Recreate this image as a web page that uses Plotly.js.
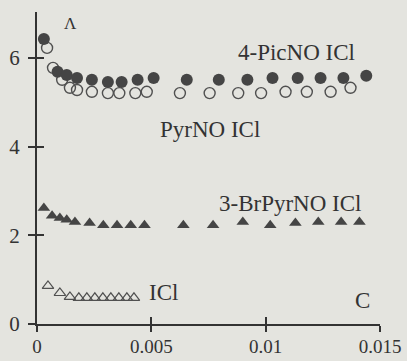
<!DOCTYPE html>
<html>
<head>
<meta charset="utf-8">
<script src="https://cdn.plot.ly/plotly-3.0.1.min.js"></script>
<style>html,body{margin:0;padding:0;background:#e4e4df;}#chart{width:407px;height:361px;}</style>
</head>
<body>
<div id="chart"></div>
<script>
// 4-PicNO ICl (filled circles)
const picX = [0.0003, 0.0009, 0.0013, 0.00175, 0.0024, 0.0031, 0.0037, 0.0044, 0.0051, 0.00655, 0.00795, 0.0092, 0.0103, 0.0114, 0.0124, 0.0134, 0.0144];
const picY = [6.43, 5.69, 5.62, 5.55, 5.51, 5.46, 5.46, 5.51, 5.55, 5.51, 5.51, 5.51, 5.55, 5.55, 5.55, 5.55, 5.60];
// PyrNO ICl (open circles)
const pyrX = [0.00044, 0.0007, 0.0011, 0.00144, 0.00175, 0.0024, 0.0031, 0.0036, 0.0043, 0.0048, 0.00625, 0.00755, 0.0088, 0.0098, 0.01087, 0.0118, 0.01284, 0.01371];
const pyrY = [6.23, 5.78, 5.51, 5.33, 5.28, 5.24, 5.21, 5.21, 5.21, 5.24, 5.21, 5.21, 5.21, 5.21, 5.24, 5.24, 5.24, 5.33];
// 3-BrPyrNO ICl (filled triangles)
const brX = [0.0003, 0.00066, 0.001, 0.0013, 0.00166, 0.0023, 0.0029, 0.0035, 0.0041, 0.0047, 0.0064, 0.0077, 0.009, 0.0102, 0.0113, 0.0123, 0.0133, 0.0141];
const brY = [2.62, 2.44, 2.39, 2.35, 2.30, 2.28, 2.23, 2.23, 2.23, 2.23, 2.23, 2.23, 2.30, 2.23, 2.28, 2.30, 2.30, 2.30];
// ICl (open triangles)
const iclX = [0.00048, 0.001, 0.00144, 0.00183, 0.00218, 0.00253, 0.00288, 0.00323, 0.00358, 0.00393, 0.00424];
const iclY = [0.86, 0.70, 0.61, 0.59, 0.59, 0.59, 0.59, 0.59, 0.59, 0.59, 0.59];

const xTicks = [0, 0.005, 0.01, 0.015];
const xTickText = ["0", "0.005", "0.01", "0.015"];
const yTicks = [0, 2, 4, 6];
const yTickText = ["0", "2", "4", "6"];

const ink = '#333333';
const serif = 'Liberation Serif, DejaVu Serif, serif';

const traces = [
  {x: pyrX, y: pyrY, mode: 'markers', type: 'scatter', name: 'PyrNO ICl',
   marker: {symbol: 'circle-open', size: 11, color: '#505050', line: {width: 1.4, color: '#505050'}}},
  {x: picX, y: picY, mode: 'markers', type: 'scatter', name: '4-PicNO ICl',
   marker: {symbol: 'circle', size: 12, color: '#454545'}},
  {x: brX, y: brY, mode: 'markers', type: 'scatter', name: '3-BrPyrNO ICl',
   marker: {symbol: 'triangle-up', size: 11, color: '#454545'}},
  {x: iclX, y: iclY, mode: 'markers', type: 'scatter', name: 'ICl',
   marker: {symbol: 'triangle-up-open', size: 10, color: '#505050', line: {width: 1.2, color: '#505050'}}}
];

const axBase = {showgrid: false, zeroline: false, showline: true, linewidth: 2, linecolor: ink,
  tickcolor: ink, tickwidth: 2, ticklen: 7, tickfont: {family: serif, size: 21, color: ink}};

const layout = {
  width: 407, height: 361,
  margin: {l: 37, r: 27, t: 12, b: 37},
  paper_bgcolor: '#e4e4df', plot_bgcolor: '#e4e4df',
  showlegend: false,
  xaxis: Object.assign({}, axBase, {range: [0, 0.015], tickvals: xTicks, ticktext: xTickText, ticks: 'outside',
    ticklen: 6, tickfont: {family: serif, size: 19, color: ink}, ticklabelstandoff: -2}),
  yaxis: Object.assign({}, axBase, {range: [0, 7.04], tickvals: yTicks, ticktext: yTickText, ticks: 'outside', ticklabelstandoff: 4}),
  xaxis2: Object.assign({}, axBase, {overlaying: 'x', range: [0, 0.015], tickvals: xTicks, ticks: 'inside', showticklabels: false, side: 'bottom'}),
  yaxis2: Object.assign({}, axBase, {overlaying: 'y', range: [0, 7.04], tickvals: yTicks, ticks: 'inside', showticklabels: false, side: 'left'}),
  annotations: [
    {x: 0.00148, y: 6.77, text: 'Λ', showarrow: false, font: {family: serif, size: 17, color: ink}},
    {x: 0.01135, y: 6.12, text: '4-PicNO ICl', showarrow: false, font: {family: serif, size: 23, color: ink}},
    {x: 0.00755, y: 4.4, text: 'PyrNO ICl', showarrow: false, font: {family: serif, size: 23, color: ink}},
    {x: 0.01105, y: 2.73, text: '3-BrPyrNO ICl', showarrow: false, font: {family: serif, size: 23, color: ink}},
    {x: 0.00555, y: 0.72, text: 'ICl', showarrow: false, font: {family: serif, size: 23, color: ink}},
    {x: 0.01424, y: 0.54, text: 'C', showarrow: false, font: {family: serif, size: 23, color: ink}}
  ]
};

// dummy trace to activate overlay axes
traces.push({x: [null], y: [null], xaxis: 'x2', yaxis: 'y2', type: 'scatter', mode: 'markers', hoverinfo: 'skip'});

Plotly.newPlot('chart', traces, layout, {displayModeBar: false, staticPlot: true});
</script>
</body>
</html>
